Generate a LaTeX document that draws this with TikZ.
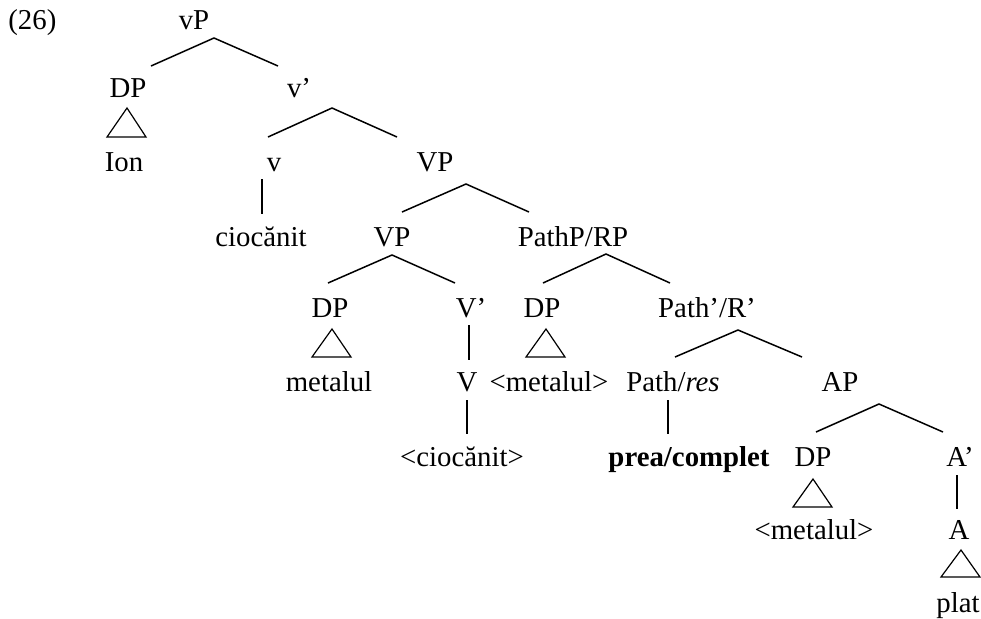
\documentclass[tikz,border=0pt]{standalone}
\usepackage{fontspec}
\setmainfont{Liberation Serif}
\begin{document}
\begin{tikzpicture}[x=0.5pt,y=-0.5pt,
    lbl/.style={anchor=base,inner sep=0pt,font=\fontsize{14.4}{17}\selectfont},
    branch/.style={line width=0.75pt},
    unary/.style={line width=1.4pt},
    roof/.style={line width=0.6pt}]
      \useasboundingbox (0,0) rectangle (981,618);

      \node[lbl,anchor=base west] (ex) at (8,29) {(26)};

      % labels, row by row
      \node[lbl] (vP) at (194,29) {vP};
      \node[lbl] (DPa) at (128,97) {DP};
      \node[lbl] (vbar) at (299,97) {v'};
      \node[lbl] (Ion) at (124,171) {Ion};
      \node[lbl] (v) at (274,171) {v};
      \node[lbl] (VPa) at (435,171) {VP};
      \node[lbl] (ciocanit) at (261,246) {ciocănit};
      \node[lbl] (VPb) at (392,246) {VP};
      \node[lbl] (PathP) at (573,246) {PathP/RP};
      \node[lbl] (DPb) at (330,317) {DP};
      \node[lbl] (Vbar) at (471,317) {V'};
      \node[lbl] (DPc) at (542,317) {DP};
      \node[lbl] (Pathbar) at (707,317) {Path'/R'};
      \node[lbl] (metalul) at (329,391) {metalul};
      \node[lbl] (V) at (467,391) {V};
      \node[lbl] (metalulb) at (549,391) {<metalul>};
      \node[lbl] (Path) at (673,391) {Path/\textit{res}};
      \node[lbl] (AP) at (840,391) {AP};
      \node[lbl] (ciocanitb) at (462,466) {<ciocănit>};
      \node[lbl] (prea) at (689,466) {\textbf{prea/complet}};
      \node[lbl] (DPd) at (813,466) {DP};
      \node[lbl] (Abar) at (960,466) {A'};
      \node[lbl] (metalulc) at (814,539) {<metalul>};
      \node[lbl] (A) at (959,539) {A};
      \node[lbl] (plat) at (958,612) {plat};

      % branch points
      \coordinate (vP-b) at (214,38);
      \coordinate (DPa-t) at (151,66);
      \coordinate (vbar-t) at (278,66);
      \coordinate (vbar-b) at (332,108);
      \coordinate (v-t) at (268,137);
      \coordinate (VPa-t) at (397,137);
      \coordinate (VPa-b) at (466,184);
      \coordinate (VPb-t) at (402,212);
      \coordinate (PathP-t) at (529,212);
      \coordinate (VPb-b) at (392,255);
      \coordinate (DPb-t) at (328,283);
      \coordinate (Vbar-t) at (455,283);
      \coordinate (PathP-b) at (606,254);
      \coordinate (DPc-t) at (543,283);
      \coordinate (Pathbar-t) at (670,283);
      \coordinate (Pathbar-b) at (738,330);
      \coordinate (Path-t) at (675,357);
      \coordinate (AP-t) at (802,357);
      \coordinate (AP-b) at (879,404);
      \coordinate (DPd-t) at (816,432);
      \coordinate (Abar-t) at (943,432);

      \draw[branch] (DPa-t) -- (vP-b) -- (vbar-t);
      \draw[branch] (v-t) -- (vbar-b) -- (VPa-t);
      \draw[branch] (VPb-t) -- (VPa-b) -- (PathP-t);
      \draw[branch] (DPb-t) -- (VPb-b) -- (Vbar-t);
      \draw[branch] (DPc-t) -- (PathP-b) -- (Pathbar-t);
      \draw[branch] (Path-t) -- (Pathbar-b) -- (AP-t);
      \draw[branch] (DPd-t) -- (AP-b) -- (Abar-t);

      % unary lines
      \coordinate (v-b) at (262,179);
      \coordinate (ciocanit-t) at (262,214);
      \coordinate (Vbar-b) at (469,325);
      \coordinate (V-t) at (469,360);
      \coordinate (V-b) at (467,400);
      \coordinate (ciocanitb-t) at (467,434);
      \coordinate (Path-b) at (668,400);
      \coordinate (prea-t) at (668,434);
      \coordinate (Abar-b) at (957,475);
      \coordinate (A-t) at (957,509);

      \draw[unary] (v-b) -- (ciocanit-t);
      \draw[unary] (Vbar-b) -- (V-t);
      \draw[unary] (V-b) -- (ciocanitb-t);
      \draw[unary] (Path-b) -- (prea-t);
      \draw[unary] (Abar-b) -- (A-t);

      % triangles
      \coordinate (DPa-b) at (127,108);
      \coordinate (DPb-b) at (332,329);
      \coordinate (DPc-b) at (546,329);
      \coordinate (DPd-b) at (813,479);
      \coordinate (A-b) at (961,550);

      \draw[roof] (DPa-b) -- ++(-20,29) -- ++(39,0) -- cycle;
      \draw[roof] (DPb-b) -- ++(-20,28) -- ++(39,0) -- cycle;
      \draw[roof] (DPc-b) -- ++(-20,28) -- ++(39,0) -- cycle;
      \draw[roof] (DPd-b) -- ++(-20,28) -- ++(39,0) -- cycle;
      \draw[roof] (A-b) -- ++(-20,27) -- ++(39,0) -- cycle;
\end{tikzpicture}
\end{document}
